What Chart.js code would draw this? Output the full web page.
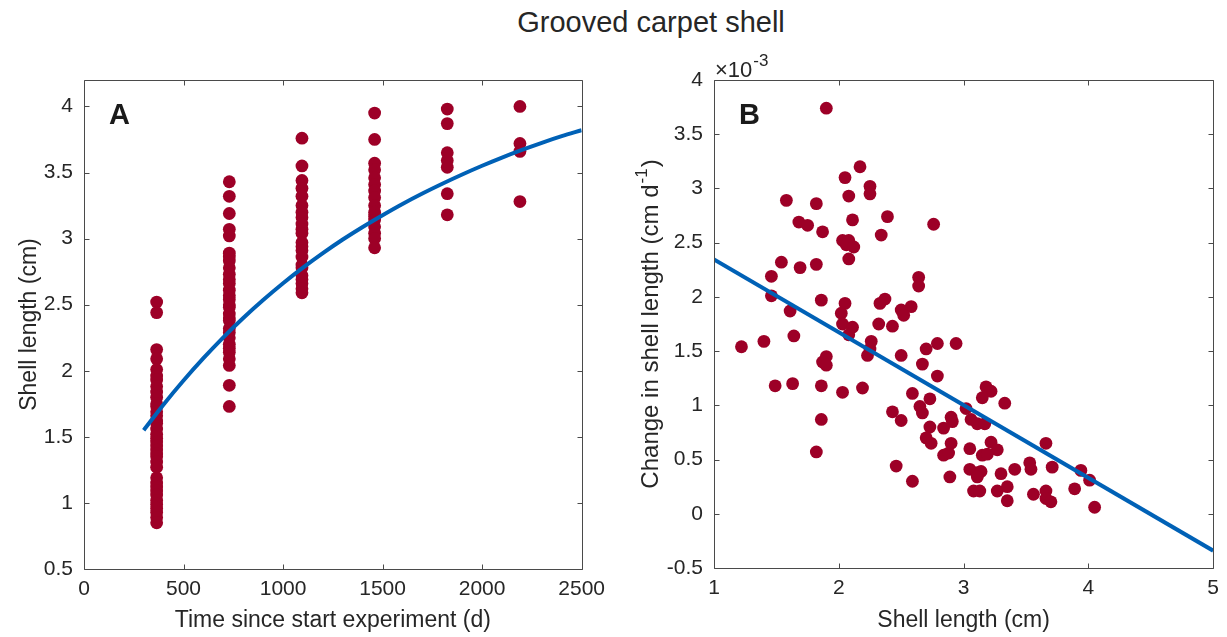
<!DOCTYPE html>
<html><head><meta charset="utf-8">
<script src="https://cdn.jsdelivr.net/npm/chart.js@4.4.1/dist/chart.umd.min.js"></script>
<style>
html,body{margin:0;padding:0;background:#fff;}
#wrap{position:relative;width:1227px;height:637px;overflow:hidden;background:#fff;}
#title{position:absolute;left:401px;top:5px;width:500px;text-align:center;font-family:"Liberation Sans",Arial,sans-serif;font-size:29px;line-height:34px;color:#262626;}
#cA{position:absolute;left:0;top:0;}
#cB{position:absolute;left:613px;top:0;}
</style></head>
<body>
<div id="wrap">
<div id="title">Grooved carpet shell</div>
<canvas id="cA" width="613" height="637"></canvas>
<canvas id="cB" width="614" height="637"></canvas>
</div>
<script>
// ---------- Panel A data: shell length (cm) per sampling time (d) ----------
const aTimes = [365, 730, 1095, 1460, 1825, 2190];
const aLen365 = [2.52, 2.44, 2.16, 2.09, 2.01, 1.96, 1.93, 1.88, 1.84, 1.80, 1.75, 1.73, 1.69, 1.66, 1.62, 1.60, 1.56, 1.52, 1.49, 1.46, 1.43, 1.40, 1.37, 1.35, 1.31, 1.27, 1.19, 1.15, 1.12, 1.09, 1.06, 1.02, 0.99, 0.96, 0.93, 0.89, 0.85];
const aLen730 = [3.43, 3.32, 3.19, 3.07, 3.02, 2.89, 2.86, 2.83, 2.78, 2.73, 2.69, 2.66, 2.61, 2.57, 2.54, 2.50, 2.48, 2.43, 2.40, 2.38, 2.32, 2.29, 2.25, 2.20, 2.17, 2.14, 2.09, 2.04, 1.89, 1.73];
const aLen1095 = [3.76, 3.55, 3.44, 3.38, 3.32, 3.25, 3.20, 3.16, 3.11, 3.07, 3.04, 2.97, 2.94, 2.91, 2.86, 2.80, 2.78, 2.72, 2.69, 2.66, 2.62, 2.59];
const aLen1460 = [3.95, 3.75, 3.57, 3.52, 3.46, 3.41, 3.36, 3.31, 3.25, 3.20, 3.17, 3.14, 3.09, 3.04, 3.00, 2.93];
const aLen1825 = [3.98, 3.87, 3.65, 3.59, 3.54, 3.34, 3.18];
const aLen2190 = [4.00, 3.72, 3.66, 3.28];
const aColumns = [aLen365, aLen730, aLen1095, aLen1460, aLen1825, aLen2190];
// growth curve
const aFitT = [300, 400, 500, 600, 700, 800, 900, 1000, 1100, 1200, 1300, 1400, 1500, 1600, 1700, 1800, 1900, 2000, 2100, 2200, 2300, 2400, 2500];
const aFitL = [1.55, 1.745, 1.926, 2.095, 2.253, 2.399, 2.535, 2.662, 2.780, 2.890, 2.993, 3.088, 3.177, 3.262, 3.341, 3.415, 3.485, 3.551, 3.613, 3.671, 3.725, 3.775, 3.82];
const aXTicks = [0, 500, 1000, 1500, 2000, 2500];
const aYTicks = [0.5, 1, 1.5, 2, 2.5, 3, 3.5, 4];

// ---------- Panel B data: shell length (cm) vs change (x1e-3 cm/d) ----------
const bLength = [1.90, 2.17, 2.05, 2.25, 2.25, 2.08, 1.58, 1.82, 2.76, 2.39, 2.11, 1.68, 1.75, 1.87, 2.34, 2.03, 2.08, 2.06, 2.12, 2.08,
  1.54, 1.69, 1.82, 1.46, 2.64, 2.64, 1.46, 1.86, 2.05, 2.37, 2.33, 2.58, 2.50, 2.52, 2.02, 1.61, 2.03, 2.11, 2.08, 2.32,
  2.43, 1.64, 2.26, 2.25, 2.23, 1.22, 1.40, 2.50, 2.70, 2.79, 2.94, 1.90, 1.87, 1.90, 2.67, 2.79, 1.49, 1.63, 1.86, 2.03,
  2.19, 2.59, 3.18, 3.22, 3.15, 3.33, 2.73, 2.65, 2.67, 3.02, 2.43, 2.50, 2.90, 2.91, 3.06, 3.11, 3.17, 2.73, 2.84, 2.70,
  2.74, 2.90, 3.22, 3.27, 3.05, 3.66, 2.84, 2.88, 3.15, 3.19, 2.46, 3.05, 3.11, 3.14, 3.11, 2.89, 3.30, 3.41, 3.53, 3.54,
  3.71, 3.94, 4.01, 2.59, 3.08, 3.13, 3.27, 3.35, 3.35, 3.56, 3.66, 3.66, 3.70, 3.89, 4.05, 1.86, 1.82];
const bChange = [3.74, 3.20, 3.10, 3.02, 2.95, 2.93, 2.89, 2.86, 2.67, 2.74, 2.71, 2.69, 2.66, 2.60, 2.57, 2.52, 2.52, 2.48, 2.46, 2.35,
  2.32, 2.27, 2.30, 2.19, 2.18, 2.10, 2.01, 1.97, 1.94, 1.98, 1.94, 1.91, 1.88, 1.83, 1.85, 1.87, 1.75, 1.72, 1.65, 1.75,
  1.73, 1.64, 1.59, 1.52, 1.46, 1.54, 1.59, 1.46, 1.52, 1.57, 1.57, 1.45, 1.40, 1.37, 1.38, 1.27, 1.18, 1.20, 1.18, 1.12,
  1.16, 1.11, 1.17, 1.13, 1.07, 1.02, 1.06, 0.99, 0.93, 0.97, 0.94, 0.86, 0.89, 0.85, 0.87, 0.83, 0.83, 0.80, 0.79, 0.70,
  0.65, 0.65, 0.66, 0.59, 0.60, 0.65, 0.54, 0.56, 0.54, 0.55, 0.44, 0.41, 0.38, 0.39, 0.34, 0.34, 0.37, 0.41, 0.47, 0.41,
  0.43, 0.40, 0.31, 0.30, 0.21, 0.21, 0.21, 0.25, 0.12, 0.18, 0.21, 0.14, 0.11, 0.23, 0.06, 0.87, 0.57];
const bFitX = [1, 5];
const bFitY = [2.345, -0.34];
const bXTicks = [1, 2, 3, 4, 5];
const bYTicks = [-0.5, 0, 0.5, 1, 1.5, 2, 2.5, 3, 3.5, 4];

const RED = '#9d0027';
const BLUE = '#0061b6';
const TXT = '#262626';
const FONT = '"Liberation Sans", Arial, Helvetica, sans-serif';
const TICK_SIZE = 21;
const TITLE_SIZE = 23;

const matlabAxes = {
  id: 'matlabAxes',
  afterDraw(chart, args, opts) {
    const ctx = chart.ctx, a = chart.chartArea;
    const xs = chart.scales.x, ys = chart.scales.y;
    ctx.save();
    ctx.strokeStyle = '#4a4a4a';
    ctx.lineWidth = 1;
    ctx.beginPath();
    const L = Math.round(a.left) + 0.5, R = Math.round(a.right) + 0.5, T = Math.round(a.top) + 0.5, B = Math.round(a.bottom) + 0.5;
    ctx.rect(L, T, R - L, B - T);
    const tl = 5;
    xs.ticks.forEach(t => {
      const px = Math.round(xs.getPixelForValue(t.value)) + 0.5;
      ctx.moveTo(px, B); ctx.lineTo(px, B - tl);
      ctx.moveTo(px, T); ctx.lineTo(px, T + tl);
    });
    ys.ticks.forEach(t => {
      const py = Math.round(ys.getPixelForValue(t.value)) + 0.5;
      ctx.moveTo(L, py); ctx.lineTo(L + tl, py);
      ctx.moveTo(R, py); ctx.lineTo(R - tl, py);
    });
    ctx.stroke();
    // panel letter
    ctx.fillStyle = '#1a1a1a';
    ctx.font = 'bold 29px ' + FONT;
    ctx.textBaseline = 'middle';
    ctx.textAlign = 'left';
    ctx.fillText(opts.letter, a.left + 25, a.top + 36);
    if (opts.exponent) {
      ctx.fillStyle = TXT;
      ctx.font = '22px ' + FONT;
      ctx.textBaseline = 'alphabetic';
      ctx.fillText('\u00d710', a.left + 1, a.top - 3);
      const w = ctx.measureText('\u00d710').width;
      ctx.font = '17px ' + FONT;
      ctx.fillText('-3', a.left + 2 + w, a.top - 14);
    }
    if (opts.yTitle) {
      const [main, sup, tail] = opts.yTitle;
      const big = opts.yTitleSize + 'px ' + FONT, small = '17px ' + FONT;
      ctx.fillStyle = TXT;
      ctx.translate(opts.yTitleX, (a.top + a.bottom) / 2);
      ctx.rotate(-Math.PI / 2);
      ctx.textBaseline = 'middle';
      ctx.font = big;
      const w1 = ctx.measureText(main).width, w3 = ctx.measureText(tail).width;
      ctx.font = small;
      const w2 = ctx.measureText(sup).width;
      const x0 = -(w1 + w2 + w3 + 2) / 2;
      ctx.font = big;
      ctx.fillText(main, x0, 0);
      ctx.font = small;
      ctx.fillText(sup, x0 + w1 + 1, -9);
      ctx.font = big;
      ctx.fillText(tail, x0 + w1 + w2 + 2, 0);
    }
    ctx.restore();
  }
};

function fmt(v) { return String(Math.round(v * 100) / 100); }

function axisCfg(min, max, tickVals, title, fixedSize, horizontal, titlePad) {
  return {
    type: 'linear', min: min, max: max,
    afterBuildTicks: s => { s.ticks = tickVals.map(v => ({ value: v })); },
    afterFit: s => { if (horizontal) s.height = fixedSize; else s.width = fixedSize; },
    grid: { display: false, drawTicks: false },
    border: { display: false },
    ticks: { color: TXT, font: { family: FONT, size: TICK_SIZE }, padding: horizontal ? 8 : 11, callback: v => fmt(v), autoSkip: false, maxRotation: 0 },
    title: { display: !!title, text: title || '', color: TXT, font: { family: FONT, size: TITLE_SIZE }, padding: titlePad }
  };
}

const aScatter = [];
aTimes.forEach((t, i) => aColumns[i].forEach(v => aScatter.push({ x: t, y: v })));
const aCurve = aFitT.map((t, i) => ({ x: t, y: aFitL[i] }));

new Chart(document.getElementById('cA'), {
  type: 'scatter',
  data: {
    datasets: [
      { type: 'line', data: aCurve, borderColor: BLUE, borderWidth: 4, pointRadius: 0, fill: false, cubicInterpolationMode: 'monotone', order: 0 },
      { data: aScatter, backgroundColor: RED, borderWidth: 0, pointRadius: 6.4, order: 1 }
    ]
  },
  options: {
    responsive: false, animation: false, devicePixelRatio: 1,
    layout: { padding: { top: 80, right: 25, left: 0, bottom: 0 } },
    plugins: { legend: { display: false }, tooltip: { enabled: false }, matlabAxes: { letter: 'A' } },
    scales: {
      x: axisCfg(0, 2500, aXTicks, 'Time since start experiment (d)', 68, true, { top: 0, bottom: 3 }),
      y: axisCfg(0.5, 4.2, aYTicks, 'Shell length (cm)', 84, false, { top: 16, bottom: 0 })
    }
  },
  plugins: [matlabAxes]
});

const bScatter = bLength.map((x, i) => ({ x: x, y: bChange[i] }));
const bLine = bFitX.map((x, i) => ({ x: x, y: bFitY[i] }));

new Chart(document.getElementById('cB'), {
  type: 'scatter',
  data: {
    datasets: [
      { type: 'line', data: bLine, borderColor: BLUE, borderWidth: 4, pointRadius: 0, fill: false, order: 0 },
      { data: bScatter, backgroundColor: RED, borderWidth: 0, pointRadius: 6.4, order: 1 }
    ]
  },
  options: {
    responsive: false, animation: false, devicePixelRatio: 1,
    layout: { padding: { top: 80, right: 10, left: 0, bottom: 0 } },
    plugins: { legend: { display: false }, tooltip: { enabled: false },
      matlabAxes: { letter: 'B', exponent: true, yTitle: ['Change in shell length (cm d', '-1', ')'], yTitleX: 38, yTitleSize: 24 } },
    scales: {
      x: axisCfg(1, 5, bXTicks, 'Shell length (cm)', 69, true, { top: 0, bottom: 3 }),
      y: axisCfg(-0.5, 4, bYTicks, '', 101, false, { top: 0, bottom: 0 })
    }
  },
  plugins: [matlabAxes]
});
</script>
</body></html>
